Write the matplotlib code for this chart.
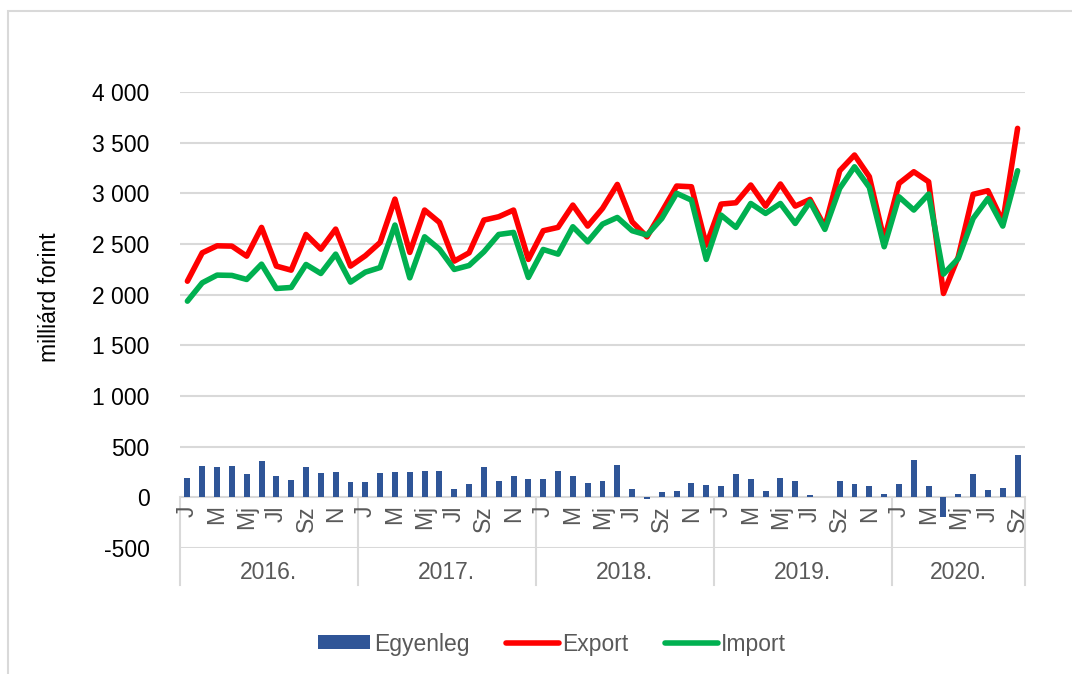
import numpy as np
import matplotlib.pyplot as plt
from matplotlib.patches import Rectangle
from matplotlib.transforms import blended_transform_factory

plt.rcParams['font.family'] = ['Liberation Sans', 'DejaVu Sans']

# monthly data, 2016 Jan - 2020 Sep (milliard forint)
export = [2133, 2413, 2482, 2479, 2380, 2664, 2282, 2242, 2594, 2449, 2647, 2282,
          2384, 2515, 2943, 2417, 2835, 2713, 2331, 2413, 2736, 2769, 2835, 2348,
          2631, 2664, 2884, 2677, 2851, 3088, 2719, 2571, 2818, 3072, 3065, 2489,
          2894, 2907, 3082, 2874, 3092, 2874, 2940, 2670, 3223, 3378, 3164, 2538,
          3098, 3213, 3114, 2012, 2374, 2990, 3026, 2719, 3641]
imports = [1936, 2117, 2193, 2190, 2150, 2301, 2061, 2071, 2298, 2209, 2400, 2124,
           2222, 2268, 2687, 2166, 2571, 2449, 2249, 2288, 2423, 2594, 2614, 2170,
           2446, 2400, 2670, 2522, 2696, 2762, 2631, 2588, 2752, 3000, 2933, 2348,
           2785, 2664, 2900, 2802, 2900, 2703, 2917, 2644, 3049, 3262, 3059, 2473,
           2966, 2835, 2993, 2203, 2357, 2752, 2950, 2677, 3223]
balance = [194, 306, 300, 306, 234, 356, 211, 174, 296, 244, 247, 151,
           148, 237, 253, 253, 263, 263, 82, 128, 300, 161, 211, 178,
           184, 263, 214, 145, 158, 319, 82, -13, 56, 66, 142, 122,
           109, 234, 178, 63, 191, 161, 26, 7, 158, 128, 109, 33,
           135, 372, 115, -194, 33, 227, 72, 95, 415]
month_labels = ['J', '', 'M', '', 'Mj', '', 'Jl', '', 'Sz', '', 'N', '']
years = ['2016.', '2017.', '2018.', '2019.', '2020.']
months_per_year = [12, 12, 12, 12, 9]

n = len(export)
x = np.arange(n)
grey = '#595959'
light = '#d9d9d9'
fs = 16.5

fig = plt.figure(figsize=(10.72, 6.74), dpi=100)
ax = fig.add_axes([180/1072, 126/674, 845/1072, 456/674])

# outer chart border (only left/top visible)
fig.patches.append(Rectangle((8/1072, -0.2), 2, 1.2 - 11/674, transform=fig.transFigure,
                             fill=False, edgecolor=light, lw=1.5))

hb = ax.bar(x, balance, width=0.4, color='#2f5597', label='Egyenleg', zorder=3)
he, = ax.plot(x, export, color='#ff0000', lw=4, label='Export', zorder=4, solid_capstyle='round')
hi, = ax.plot(x, imports, color='#00b050', lw=4, label='Import', zorder=5, solid_capstyle='round')

ax.set_xlim(-0.5, n - 0.5)
ax.set_ylim(-500, 4000)
yt = np.arange(-500, 4001, 500)
ax.set_yticks(yt)
ax.set_yticklabels([f'{v:,}'.replace(',', ' ') for v in yt], fontsize=fs, color='black')
ax.tick_params(axis='y', length=0, pad=22)
ax.set_xticks([])
for s in ax.spines.values():
    s.set_visible(False)
for v in yt:
    ax.axhline(v, color=light, lw=1.5, zorder=1, xmin=-0.002)

# category axis
tr = blended_transform_factory(ax.transData, ax.transAxes)
for i in range(n):
    lab = month_labels[i % 12]
    if lab:
        ax.text(i, 0.094, lab, rotation=90, ha='center', va='top', fontsize=fs,
                color=grey, transform=tr)
start = -0.5
bounds = [start]
for yr, m in zip(years, months_per_year):
    end = start + m
    ax.text((start + end) / 2, -0.053, yr, ha='center', va='center', fontsize=fs,
            color=grey, transform=tr)
    bounds.append(end)
    start = end
for b in bounds:
    ax.plot([b, b], [(548 - 497) / 456, -37 / 456], color=light, lw=1.5,
            transform=tr, clip_on=False, zorder=1)

fig.text(50/1072, 1 - 297/674, 'milliárd forint', rotation=90, ha='center', va='center',
         fontsize=fs, color='black')

leg = fig.legend([hb, he, hi], ['Egyenleg', 'Export', 'Import'], loc='center',
                 bbox_to_anchor=(552/1072, 30/674), ncol=3, frameon=False,
                 fontsize=fs, handlelength=2.3, handleheight=0.55,
                 columnspacing=1.6, handletextpad=0.15)
for t in leg.get_texts():
    t.set_color(grey)

fig.savefig('out.png', dpi=100)
